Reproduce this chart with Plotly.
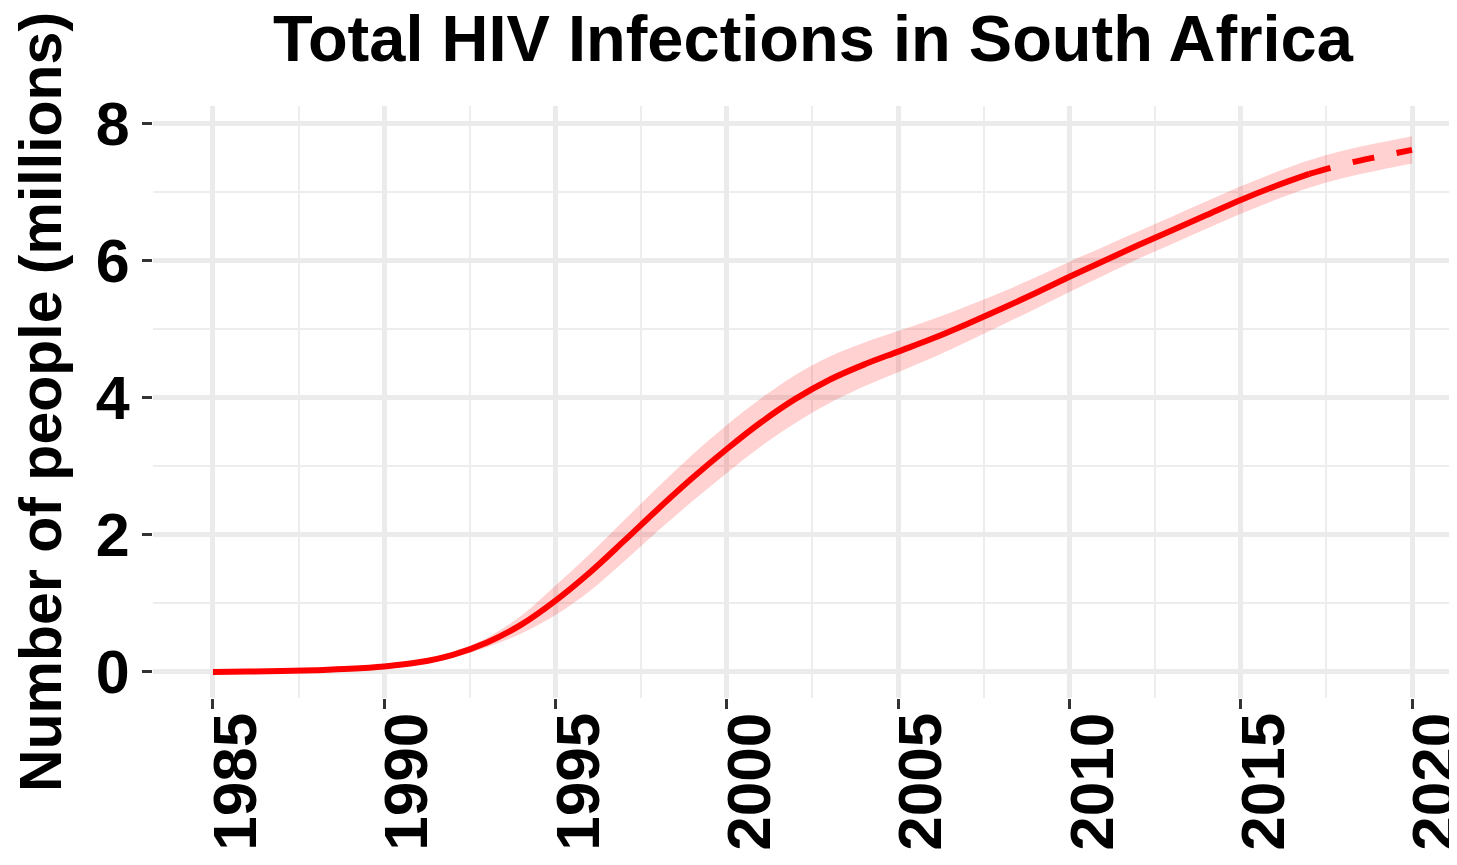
import plotly.graph_objects as go

years = list(range(1985, 2021))
total = [0.0, 0.005, 0.012, 0.025, 0.045, 0.08, 0.14, 0.25, 0.43, 0.69,
         1.04, 1.45, 1.91, 2.38, 2.83, 3.25, 3.64, 3.98, 4.26, 4.48,
         4.67, 4.86, 5.07, 5.29, 5.52, 5.76, 5.99, 6.22, 6.44, 6.66,
         6.88, 7.08, 7.26, 7.40, 7.51, 7.61]
lower = [0.0, 0.0, 0.005, 0.015, 0.03, 0.06, 0.11, 0.21, 0.36, 0.56,
         0.83, 1.18, 1.61, 2.06, 2.49, 2.90, 3.29, 3.63, 3.92, 4.16,
         4.37, 4.58, 4.81, 5.05, 5.29, 5.54, 5.78, 6.02, 6.24, 6.46,
         6.68, 6.88, 7.06, 7.20, 7.31, 7.41]
upper = [0.0, 0.01, 0.02, 0.035, 0.06, 0.10, 0.17, 0.29, 0.50, 0.82,
         1.26, 1.72, 2.21, 2.70, 3.17, 3.60, 3.99, 4.33, 4.60, 4.80,
         4.97, 5.14, 5.33, 5.53, 5.75, 5.98, 6.20, 6.42, 6.64, 6.86,
         7.08, 7.28, 7.46, 7.60, 7.71, 7.81]
proj_start = 2017

x_ticks = [1985, 1990, 1995, 2000, 2005, 2010, 2015, 2020]
y_ticks = [0, 2, 4, 6, 8]

title_text = "Total HIV Infections in South Africa"
y_title = "Number of people (millions)"

FONT = "Liberation Sans, Arial, sans-serif"
RED = "#ff0000"

fig = go.Figure()
fig.add_trace(go.Scatter(x=years, y=upper, mode="lines", line=dict(width=0, shape="spline"),
                         hoverinfo="skip", showlegend=False))
fig.add_trace(go.Scatter(x=years, y=lower, mode="lines", line=dict(width=0, shape="spline"),
                         fill="tonexty", fillcolor="rgba(255,0,0,0.18)",
                         hoverinfo="skip", showlegend=False))

solid_x = [y for y in years if y <= proj_start]
solid_y = [v for y, v in zip(years, total) if y <= proj_start]
dash_x = [y for y in years if y >= proj_start]
dash_y = [v for y, v in zip(years, total) if y >= proj_start]

fig.add_trace(go.Scatter(x=solid_x, y=solid_y, mode="lines",
                         line=dict(color=RED, width=6, shape="spline"), showlegend=False))
fig.add_trace(go.Scatter(x=dash_x, y=dash_y, mode="lines",
                         line=dict(color=RED, width=6, shape="spline", dash="22px,23px"),
                         showlegend=False))

fig.update_layout(
    width=1457, height=865,
    margin=dict(l=145, r=0, t=98, b=175),
    paper_bgcolor="white", plot_bgcolor="white",
    font=dict(family=FONT, color="black"),
    title=dict(text="<b>" + title_text + "</b>", x=0.503, xref="paper", xanchor="center",
               y=1 - 30 / 865, yref="container", yanchor="middle",
               font=dict(size=65, family=FONT, color="black")),
    showlegend=False,
)

fig.update_xaxes(
    range=[1983.25, 2021.546], tickvals=x_ticks, ticktext=[str(v) for v in x_ticks],
    tickangle=-90, ticks="outside", ticklen=10, tickwidth=3, tickcolor="#333333",
    tickfont=dict(size=62, family=FONT, color="black", weight="bold"),
    ticklabelshift=23, ticklabelstandoff=-21, ticklabeloverflow="allow",
    showgrid=True, gridcolor="#ebebeb", gridwidth=4.5, zeroline=False, showline=False,
    minor=dict(dtick=2.5, tick0=1985, showgrid=True, gridcolor="#ededed", gridwidth=2, ticks=""),
    automargin=False,
)
fig.update_yaxes(
    range=[-0.38, 8.25], tickvals=y_ticks, ticktext=[str(v) for v in y_ticks],
    ticks="outside", ticklen=10, tickwidth=3, tickcolor="#333333",
    tickfont=dict(size=61, family=FONT, color="black", weight="bold"),
    showgrid=True, gridcolor="#ebebeb", gridwidth=4.5, zeroline=False, showline=False,
    minor=dict(dtick=1, tick0=0, showgrid=True, gridcolor="#ededed", gridwidth=2, ticks=""),
    title=dict(text="<b>" + y_title + "</b>", font=dict(size=59, family=FONT, color="black"),
               standoff=27),
    automargin=False,
)

fig.write_html("out.html")
